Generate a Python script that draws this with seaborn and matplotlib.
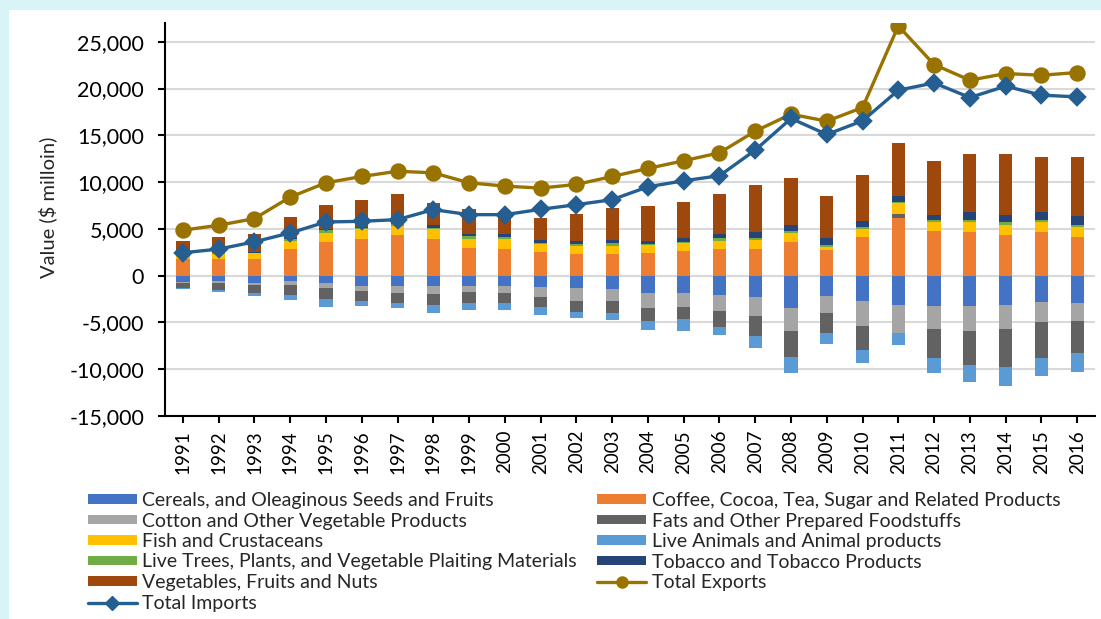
import numpy as np
import pandas as pd
import matplotlib
matplotlib.use("Agg")
import matplotlib.pyplot as plt
from matplotlib.patches import Patch, Rectangle
from matplotlib.lines import Line2D
from matplotlib.ticker import FuncFormatter
import seaborn as sns

# years on the x axis
years = [str(y) for y in range(1991, 2017)]

# product groups ($ million)
cereals = [-710, -570, -745, -570, -745, -1100, -1100, -1100, -1100, -1100, -1240, -1350, -1450,
           -1810, -1810, -2060, -2310, -3490, -2170, -2700, -3130, -3240, -3240, -3130, -2850, -2880]
coffee = [1740, 1770, 1770, 2800, 3620, 3970, 4330, 3970, 2980, 2840, 2550, 2270, 2270,
          2380, 2670, 2810, 2880, 3630, 2740, 4090, 6120, 4800, 4700, 4340, 4700, 4160]
cotton = [-110, -250, -210, -430, -600, -530, -710, -850, -600, -710, -990, -1310, -1310,
          -1670, -1570, -1670, -1990, -2380, -1850, -2670, -3020, -2460, -2630, -2560, -2140, -1960]
fats = [-460, -670, -850, -1060, -1170, -1130, -1130, -1170, -1170, -1130, -1130, -1170, -1240,
        -1320, -1280, -1710, -2140, -2850, -2140, -2560, 460, -3130, -3670, -4020, -3840, -3380]
fish = [350, 530, 600, 890, 960, 990, 990, 990, 990, 1030, 820, 920, 920,
        890, 780, 925, 925, 960, 360, 890, 1140, 925, 1000, 1070, 1000, 1000]
live_animals = [-180, -210, -350, -530, -850, -460, -530, -890, -850, -780, -850, -740, -780,
                -1000, -1210, -925, -1250, -1640, -1140, -1420, -1250, -1530, -1780, -2060, -1890, -2030]
live_trees = [100, 80, 100, 210, 280, 140, 250, 140, 250, 210, 140, 180, 250,
              150, 180, 250, 250, 210, 210, 250, 180, 210, 250, 280, 250, 250]
tobacco = [50, 60, 60, 80, 100, 100, 100, 280, 210, 350, 280, 320, 350,
           300, 400, 460, 640, 600, 680, 640, 600, 530, 890, 820, 820, 1000]
vegetables = [1480, 1740, 1950, 2300, 2590, 2940, 3010, 2410, 2660, 2200, 2410, 2940, 3440,
              3740, 3810, 4230, 4980, 5090, 4560, 4880, 5690, 5770, 6160, 6480, 5940, 6300]

total_exports = [4860, 5390, 6100, 8400, 9930, 10600, 11160, 10990, 9930, 9570, 9360, 9750, 10600,
                 11460, 12280, 13130, 15440, 17260, 16510, 17970, 26690, 22560, 20890, 21600, 21420, 21710]
total_imports = [2450, 2840, 3620, 4570, 5740, 5810, 5990, 7060, 6520, 6520, 7090, 7590, 8120,
                 9500, 10140, 10680, 13420, 16800, 15090, 16550, 19820, 20600, 19040, 20250, 19290, 19110]

series = [
    ("Cereals, and Oleaginous Seeds and Fruits", cereals, "#4472C4"),
    ("Coffee, Cocoa, Tea, Sugar and Related Products", coffee, "#ED7D31"),
    ("Cotton and Other Vegetable Products", cotton, "#A5A5A5"),
    ("Fats and Other Prepared Foodstuffs", fats, "#626262"),
    ("Fish and Crustaceans", fish, "#FFC000"),
    ("Live Animals and Animal products", live_animals, "#5B9BD5"),
    ("Live Trees, Plants, and Vegetable Plaiting Materials", live_trees, "#70AD47"),
    ("Tobacco and Tobacco Products", tobacco, "#264478"),
    ("Vegetables, Fruits and Nuts", vegetables, "#9E480E"),
]
exp_color = "#997300"
imp_color = "#255E91"

sns.set_style("white")
plt.rcParams["font.family"] = ["Lato", "DejaVu Sans"]

fig = plt.figure(figsize=(11.01, 6.19), dpi=100, facecolor="#d9f4f7")
fig.add_artist(Rectangle((9 / 1101, 0), 1, 1 - 10 / 619, transform=fig.transFigure,
                         facecolor="white", edgecolor="none", zorder=-10))
ax = fig.add_axes([0.1499, 0.3279, 0.8447, 0.6349])

# stacked bars, positive and negative parts stacked separately (like Excel)
pos_base = np.zeros(len(years))
neg_base = np.zeros(len(years))
for name, vals, col in series:
    v = np.array(vals, dtype=float)
    bottom = np.where(v >= 0, pos_base, neg_base)
    sns.barplot(x=years, y=v, bottom=bottom, color=col, saturation=1, width=0.37,
                linewidth=0, errorbar=None, ax=ax, zorder=2)
    pos_base = pos_base + np.clip(v, 0, None)
    neg_base = neg_base + np.clip(v, None, 0)

sns.pointplot(x=years, y=total_exports, color=exp_color, marker="o", markersize=10,
              linewidth=2.4, errorbar=None, ax=ax, zorder=4)
sns.pointplot(x=years, y=total_imports, color=imp_color, marker="D", markersize=8.5,
              linewidth=2.4, errorbar=None, ax=ax, zorder=5)

ax.set_xlim(-0.5, len(years) - 0.5)
ax.set_ylim(-15000, 27000)
ax.set_yticks(range(-15000, 25001, 5000))
ax.yaxis.set_major_formatter(FuncFormatter(lambda v, p: f"{v:,.0f}"))
ax.set_axisbelow(True)
ax.grid(axis="y", color="#d9d9d9", linewidth=1.5)
ax.grid(axis="x", visible=False)
for s in ["top", "right"]:
    ax.spines[s].set_visible(False)
for s in ["left", "bottom"]:
    ax.spines[s].set_color("black")
    ax.spines[s].set_linewidth(1.5)
ax.tick_params(axis="y", left=True, length=5, width=1.5, pad=10, labelsize=15.5, colors="black")
ax.tick_params(axis="x", bottom=True, length=5, width=1.5, pad=5, labelsize=13.5,
               labelrotation=90, colors="black")
ax.set_xlabel("")
ax.set_ylabel(r"Value (\$ milloin)", fontsize=14.5, labelpad=8.5)
ax.yaxis.label.set_y(0.53)

# legend in Excel's row order
h = {name: Patch(facecolor=col, edgecolor="none") for name, _, col in series}
h["Total Exports"] = Line2D([], [], color=exp_color, lw=2.4, marker="o", markersize=8)
h["Total Imports"] = Line2D([], [], color=imp_color, lw=2.4, marker="D", markersize=7)
left_col = [series[i][0] for i in [0, 2, 4, 6, 8]] + ["Total Imports"]
right_col = [series[i][0] for i in [1, 3, 5, 7]] + ["Total Exports"]
labels = left_col + right_col
fig.legend([h[l] for l in labels], labels, loc="upper left",
           bbox_to_anchor=(88 / 1101, 1 - 492 / 619), ncol=2, frameon=False,
           fontsize=14, handlelength=2.5, handleheight=0.4, handletextpad=0.3,
           labelspacing=0.18, columnspacing=1.05, borderpad=0, borderaxespad=0)

fig.savefig("out.png", dpi=100, facecolor=fig.get_facecolor())
